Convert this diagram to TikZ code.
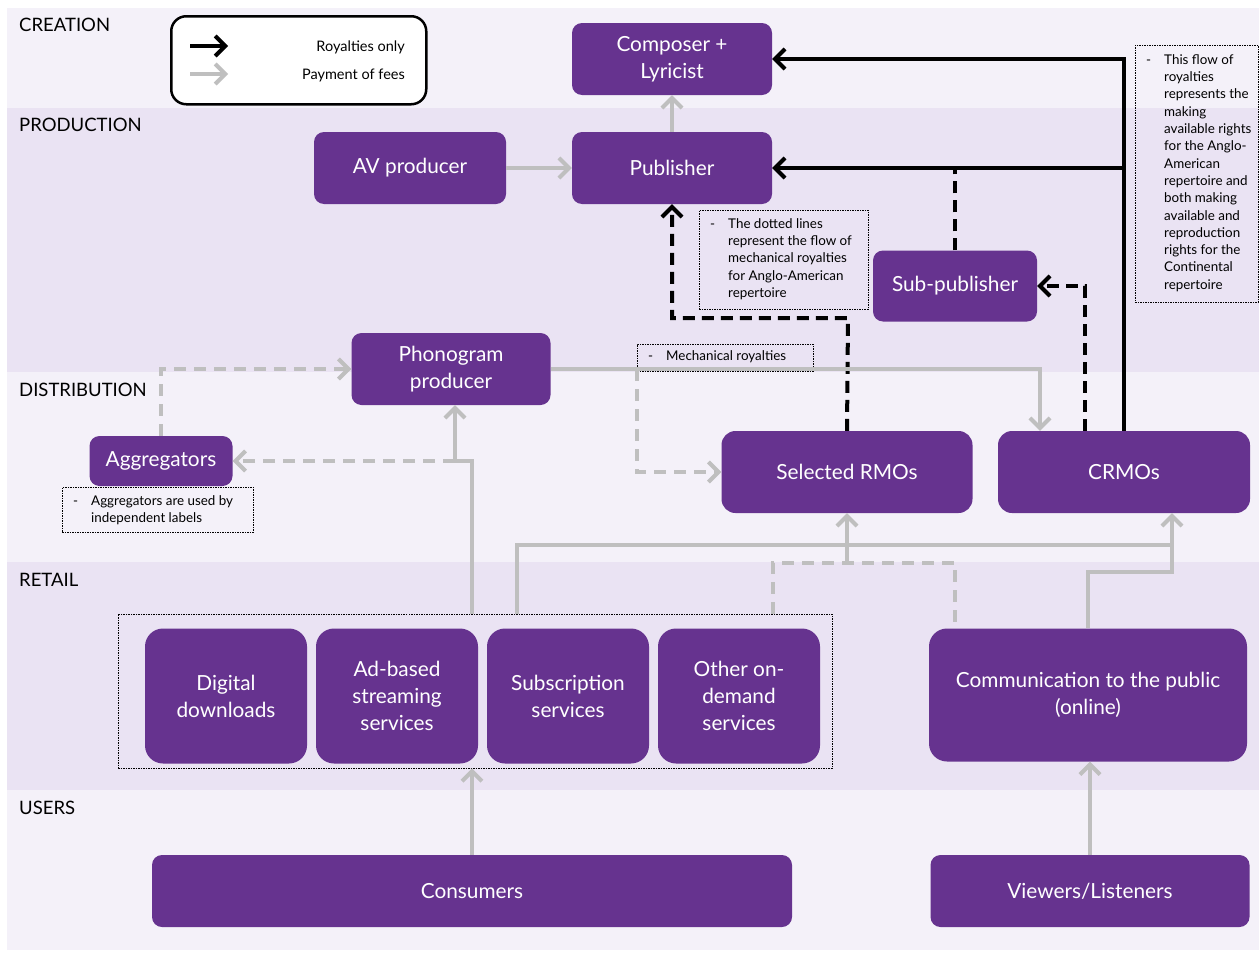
\documentclass[tikz,border=0pt]{standalone}
\usepackage{fontspec}
\setmainfont{Lato}
\usetikzlibrary{arrows.meta}
\definecolor{purp}{HTML}{66338F}
\definecolor{bandlight}{HTML}{F4F1F9}
\definecolor{banddark}{HTML}{EAE3F3}
\definecolor{feegrey}{HTML}{BFBFBF}
\begin{document}
\begin{tikzpicture}[x=1pt,y=-1pt,
  >={Straight Barb[length=10,width=20]},
  box/.style={fill=purp, rounded corners=10, text=white, align=center,
    font=\fontsize{20.8}{27}\selectfont, inner sep=0pt},
  svc/.style={box, rounded corners=18, minimum width=162, minimum height=135},
  band/.style={font=\fontsize{18.5}{20}\selectfont, anchor=west, inner sep=0pt},
  royline/.style={line width=4, draw=black},
  roydash/.style={royline, dash pattern=on 12 off 7},
  feeline/.style={line width=4, draw=feegrey},
  feedash/.style={feeline, dash pattern=on 12 off 8},
  note/.style={draw, line width=0.7, dash pattern=on 1.5 off 1, anchor=north west,
    inner sep=0pt},
  notetext/.style={anchor=north west, inner sep=0pt, font=\fontsize{13.4}{17.3}\selectfont}
]
\useasboundingbox (0,0) rectangle (1259,953);
\fill[white] (0,0) rectangle (1259,953);

% horizontal bands
\fill[bandlight] (7,8)   rectangle (1259,108);
\fill[banddark]  (7,108) rectangle (1259,372);
\fill[bandlight] (7,372) rectangle (1259,562);
\fill[banddark]  (7,562) rectangle (1259,790);
\fill[bandlight] (7,790) rectangle (1259,950);

\node[band] (lcre) at (19,25)  {CREATION};
\node[band] (lpro) at (19,125) {PRODUCTION};
\node[band] (ldis) at (19,390) {DISTRIBUTION};
\node[band] (lret) at (19,580) {RETAIL};
\node[band] (luse) at (19,808) {USERS};

% legend
\node[draw, line width=2.5, fill=white, rounded corners=15, minimum width=255,
  minimum height=88, anchor=north west] (legend) at (170,15) {};
\node[anchor=east, font=\fontsize{14.5}{16}\selectfont, inner sep=0pt] (lroy) at (405,47) {Royalties only};
\node[anchor=east, font=\fontsize{14.5}{16}\selectfont, inner sep=0pt] (lfee) at (405,75) {Payment of fees};
\coordinate (la1) at (190,46);
\coordinate (la2) at (190,74);
\draw[royline,->] (la1) -- ++(38,0);
\draw[feeline,->] (la2) -- ++(38,0);

% boxes
\node[box, minimum width=200, minimum height=72] (comp) at (672,59) {Composer +\\Lyricist};
\node[box, minimum width=200, minimum height=72] (pub)  at (672,168) {Publisher};
\node[box, minimum width=192, minimum height=72] (av)   at (410,168) {AV producer};
\node[box, minimum width=164, minimum height=71] (sub)  at (955,286) {Sub-publisher};
\node[box, minimum width=199, minimum height=72] (phon) at (451,369) {Phonogram\\producer};
\node[box, minimum width=143, minimum height=50] (agg)  at (161,461) {Aggregators};
\node[box, rounded corners=14, minimum width=251, minimum height=82] (srmo) at (847,472) {Selected RMOs};
\node[box, rounded corners=14, minimum width=252, minimum height=82] (crmo) at (1124,472) {CRMOs};

\node[svc] (dig) at (226,696) {Digital\\downloads};
\node[svc] (ads) at (397,696) {Ad-based\\streaming\\services};
\node[svc] (subs) at (568,696) {Subscription\\services};
\node[svc] (oth) at (739,696) {Other on-\\demand\\services};
\node[draw, line width=0.7, dash pattern=on 1.5 off 1, minimum width=714, minimum height=154,
  inner sep=0pt] (retail) at (475,691) {};
\node[box, rounded corners=18, minimum width=318, minimum height=133] (comm) at (1088,695) {Communication to the public\\(online)};

\node[box, minimum width=640, minimum height=72] (cons) at (472,891) {Consumers};
\node[box, minimum width=319, minimum height=72] (view) at (1090,891) {Viewers/Listeners};

% notes
\node[note, minimum width=123, minimum height=257] (n1) at (1135,45) {};
\node[notetext] (n1t) at (1146,52)
  {\begin{tabular}{@{}p{18pt}@{}l@{}}
   - & This flow of\\ & royalties\\ & represents the\\ & making\\ & available rights\\
     & for the Anglo-\\ & American\\ & repertoire and\\ & both making\\ & available and\\
     & reproduction\\ & rights for the\\ & Continental\\ & repertoire
   \end{tabular}};
\node[note, minimum width=169, minimum height=99] (n2) at (699,210) {};
\node[notetext] (n2t) at (710,216)
  {\begin{tabular}{@{}p{18pt}@{}l@{}}
   - & The dotted lines\\ & represent the flow of\\ & mechanical royalties\\
     & for Anglo-American\\ & repertoire
   \end{tabular}};
\node[note, minimum width=176, minimum height=27] (n3) at (637,344) {};
\node[anchor=west, inner sep=0pt, font=\fontsize{13.4}{15}\selectfont] (n3t) at (648,357)
  {\makebox[18pt][l]{-}Mechanical royalties};
\node[note, minimum width=191, minimum height=45] (n4) at (62,487) {};
\node[notetext] (n4t) at (73,493)
  {\begin{tabular}{@{}p{18pt}@{}l@{}}
   - & Aggregators are used by\\ & independent labels
   \end{tabular}};

% royalties (black)
\draw[royline,->] (crmo.north) |- (comp.east);
\draw[royline,->] (crmo.north |- pub.east) -- (pub.east);
\coordinate (b1) at (848,318);
\draw[roydash,->] (srmo.north) -- (b1) -| (pub.south);
\draw[roydash] (sub.north) -- (sub.north |- pub.east);
\draw[roydash,->] ([xshift=-39]crmo.north) |- (sub.east);

% payment of fees (grey)
\draw[feeline,->] (pub.north) -- (comp.south);
\draw[feeline,->] (av.east) -- (pub.west);
\draw[feeline,->] (phon.east) -| ([xshift=-84]crmo.north);
\coordinate (mr) at (637,369);
\draw[feedash,->] (mr) |- (srmo.west);
\draw[feedash,->] (agg.north) |- (phon.west);
\coordinate (j1) at (455,461);
\draw[feeline,->] ([xshift=-3]retail.north) |- (j1) -- (j1 |- phon.south);
\draw[feedash,->] (j1) -- (agg.east);

\coordinate (k1) at (517,545);
\coordinate (k2) at (1172,545);
\draw[feeline,->] (k1 |- retail.north) -- (k1) -- (k2) -- (k2 |- crmo.south);
\draw[feeline,->] (srmo.south |- 0,563) -- (srmo.south);
\coordinate (m1) at (773,563);
\coordinate (m2) at (955,563);
\draw[feedash] (m1 |- retail.north) -- (m1) -- (m2) -- (m2 |- comm.north);
\coordinate (p1) at (1172,572);
\draw[feeline] (comm.north) |- (p1) -- (k2);
\draw[feeline,->] (cons.north) -- (cons.north |- retail.south);
\draw[feeline,->] (view.north) -- (view.north |- comm.south);
\end{tikzpicture}
\end{document}
